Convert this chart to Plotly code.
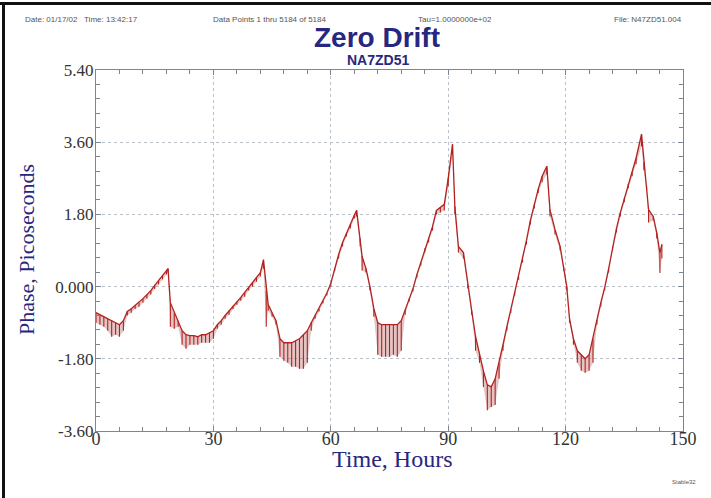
import plotly.graph_objects as go

# ---- data ----
time_h = [0, 1, 2, 3, 4, 5, 6, 7, 8, 9, 10, 11, 12, 13, 14, 15, 16, 17, 18, 18.4,
          19, 20, 21, 22, 23, 24, 25, 26, 27, 28, 29, 30, 31, 32, 33, 34, 35, 36, 37, 38,
          39, 40, 41, 42, 42.8, 43.5, 44, 45, 46, 47, 48, 49, 50, 51, 52, 53, 54, 55, 56, 57,
          58, 59, 60, 61, 62, 63, 64, 65, 66, 66.6, 67.5, 68, 69, 70, 71, 72, 73, 74, 75, 76,
          77, 78, 79, 80, 81, 82, 83, 84, 85, 86, 87, 88, 89, 90, 91.1, 91.7, 92.6, 93.9, 95, 96,
          97, 98, 99, 100, 101, 102, 103, 104, 105, 106, 107, 108, 109, 110, 111, 112, 113, 114, 115.2, 116,
          117.3, 118.6, 119.5, 120.3, 121, 122, 123, 124, 125, 126, 127, 128, 129, 130, 131, 132, 133, 134, 135, 136,
          137, 138, 139.4, 140, 140.7, 141.2, 142.4, 143.3, 144.1, 144.6]

phase_mid = [-0.65, -0.70, -0.75, -0.80, -0.85, -0.90, -0.95, -0.85, -0.62, -0.55, -0.47, -0.40, -0.30, -0.20, -0.10, 0.03, 0.15, 0.27, 0.38, 0.45,
             -0.40, -0.65, -0.85, -1.10, -1.20, -1.22, -1.22, -1.25, -1.20, -1.20, -1.15, -1.10, -0.95, -0.85, -0.72, -0.60, -0.48, -0.38, -0.27, -0.15,
             -0.02, 0.10, 0.22, 0.35, 0.67, -0.10, -0.45, -0.65, -0.85, -1.30, -1.40, -1.40, -1.40, -1.35, -1.30, -1.20, -1.10, -0.90, -0.72, -0.55,
             -0.35, -0.16, 0.08, 0.45, 0.80, 1.10, 1.34, 1.55, 1.78, 1.90, 1.20, 0.75, 0.45, 0.00, -0.55, -0.90, -0.95, -0.95, -0.95, -0.95,
             -0.95, -0.85, -0.58, -0.30, -0.05, 0.30, 0.60, 0.95, 1.20, 1.50, 1.90, 1.98, 2.05, 2.70, 3.55, 2.00, 1.00, 0.85, 0.05, -0.60,
             -1.25, -1.70, -2.10, -2.45, -2.50, -2.30, -1.90, -1.45, -1.00, -0.58, -0.15, 0.25, 0.70, 1.15, 1.65, 2.05, 2.43, 2.75, 3.00, 1.92,
             1.42, 1.00, 0.50, 0.00, -0.80, -1.30, -1.60, -1.70, -1.80, -1.70, -1.30, -0.83, -0.40, -0.02, 0.45, 1.00, 1.45, 1.85, 2.20, 2.55,
             2.85, 3.20, 3.80, 3.10, 2.50, 1.92, 1.75, 1.34, 0.84, 1.05]

phase_low = [-0.90, -0.95, -1.00, -1.10, -1.25, -1.20, -1.25, -1.10, -0.72, -0.65, -0.56, -0.50, -0.40, -0.30, -0.20, -0.06, 0.05, 0.18, 0.30, 0.35,
             -1.00, -1.05, -1.00, -1.45, -1.55, -1.45, -1.45, -1.45, -1.40, -1.40, -1.40, -1.30, -1.05, -0.95, -0.80, -0.70, -0.56, -0.45, -0.35, -0.25,
             -0.10, 0.00, 0.12, 0.25, 0.45, -1.00, -0.60, -0.75, -0.95, -1.75, -1.85, -1.90, -2.00, -2.00, -2.05, -2.05, -1.90, -1.10, -0.80, -0.62,
             -0.42, -0.22, 0.00, 0.38, 0.70, 1.00, 1.25, 1.45, 1.70, 1.75, 1.00, 0.40, 0.35, -0.10, -0.75, -1.70, -1.75, -1.75, -1.75, -1.70,
             -1.75, -1.60, -0.70, -0.38, -0.12, 0.22, 0.52, 0.85, 1.10, 1.40, 1.80, 1.85, 1.90, 2.50, 3.30, 1.80, 0.85, 0.70, -0.05, -0.70,
             -1.60, -1.90, -2.50, -3.08, -3.00, -2.95, -2.30, -1.60, -1.10, -0.66, -0.22, 0.17, 0.60, 1.05, 1.55, 1.95, 2.33, 2.60, 2.80, 1.75,
             1.30, 0.90, 0.40, -0.10, -0.90, -1.45, -1.90, -2.10, -2.15, -2.10, -1.90, -0.95, -0.50, -0.10, 0.35, 0.90, 1.35, 1.75, 2.10, 2.45,
             2.75, 3.05, 3.50, 2.90, 2.40, 1.60, 1.65, 1.20, 0.34, 0.70]

x_ticks = [0, 30, 60, 90, 120, 150]
y_ticks = [5.4, 3.6, 1.8, 0.0, -1.8, -3.6]
y_tick_labels = ["5.40", "3.60", "1.80", "0.000", "-1.80", "-3.60"]

header_texts = ["Date: 01/17/02   Time: 13:42:17",
                "Data Points 1 thru 5184 of 5184",
                "Tau=1.0000000e+02",
                "File: N47ZD51.004"]
title_text = "Zero Drift"
subtitle_text = "NA7ZD51"
x_title = "Time, Hours"
y_title = "Phase, Picoseconds"
footer_text = "Stable32"

# ---- layout geometry (pixels) ----
W, H = 711, 498
L, R, T, B = 96, 28, 70, 67
PW, PH = W - L - R, H - T - B


def px(x):
    return (x - L) / PW


def py(y):
    return (H - B - y) / PH


NAVY = "#27277f"
AXC = "#7d8794"
RED = "#b3221f"

fig = go.Figure()
fig.add_trace(go.Scatter(x=time_h, y=phase_low, mode="lines", line=dict(width=0, color=RED),
                         hoverinfo="skip", showlegend=False))
fig.add_trace(go.Scatter(
    x=time_h, y=phase_mid, mode="lines", fill="tonexty",
    fillcolor="rgba(185,110,110,0.40)",
    line=dict(color=RED, width=1.3), showlegend=False,
    error_y=dict(type="data", symmetric=False,
                 array=[0] * len(phase_mid),
                 arrayminus=[m - l for m, l in zip(phase_mid, phase_low)],
                 color=RED, thickness=1.1, width=0),
))

axis_common = dict(
    showline=True, linecolor=AXC, linewidth=1.2, mirror="allticks",
    ticks="inside", ticklen=5, tickcolor=AXC, tickwidth=1,
    showgrid=True, gridcolor="#b9c0c8", gridwidth=1, griddash="dot",
    zeroline=False,
)

fig.update_xaxes(range=[0, 150], tickvals=x_ticks, ticktext=[str(v) for v in x_ticks],
                 ticklabelstandoff=-9,
                 tickfont=dict(family="Liberation Serif", size=18, color="#333333"),
                 minor=dict(dtick=6, tick0=0, ticks="inside", ticklen=4, tickcolor=AXC, showgrid=False),
                 **axis_common)
fig.update_yaxes(range=[-3.6, 5.4], tickvals=y_ticks, ticktext=y_tick_labels,
                 ticklabelstandoff=-2,
                 tickfont=dict(family="Liberation Serif", size=17, color="#333333"),
                 minor=dict(dtick=0.36, tick0=-3.6, ticks="inside", ticklen=4, tickcolor=AXC, showgrid=False),
                 **axis_common)

ann = []
hdr_font = dict(family="Liberation Sans", size=8, color="#555555")
HY = 19
ann.append(dict(x=px(23), y=py(HY), text=header_texts[0], xanchor="left", yanchor="middle", font=hdr_font))
ann.append(dict(x=px(211), y=py(HY), text=header_texts[1], xanchor="left", yanchor="middle", font=hdr_font))
ann.append(dict(x=px(416), y=py(HY), text=header_texts[2], xanchor="left", yanchor="middle", font=hdr_font))
ann.append(dict(x=px(684), y=py(HY), text=header_texts[3], xanchor="right", yanchor="middle", font=hdr_font))
ann.append(dict(x=px(377), y=py(38), text="<b>" + title_text + "</b>", xanchor="center", yanchor="middle",
                font=dict(family="Liberation Sans", size=28, color=NAVY), borderpad=0))
ann.append(dict(x=px(378), y=py(60), text="<b>" + subtitle_text + "</b>", xanchor="center", yanchor="middle",
                font=dict(family="Liberation Sans", size=14, color=NAVY), borderpad=0))
ann.append(dict(x=px(392), y=py(459), text=x_title, xanchor="center", yanchor="middle",
                font=dict(family="Liberation Serif", size=24, color=NAVY)))
ann.append(dict(x=px(26), y=py(250), text=y_title, textangle=-90, xanchor="center", yanchor="middle",
                font=dict(family="Liberation Serif", size=22, color=NAVY)))
ann.append(dict(x=px(698), y=py(482), text=footer_text, xanchor="right", yanchor="middle",
                font=dict(family="Liberation Sans", size=6, color="#555555")))
for a in ann:
    a.update(xref="paper", yref="paper", showarrow=False)

shapes = [
    dict(type="line", xref="paper", yref="paper", x0=px(0), x1=px(W), y0=py(3.5), y1=py(3.5),
         line=dict(color="#111111", width=3)),
    dict(type="line", xref="paper", yref="paper", x0=px(3.5), x1=px(3.5), y0=py(2), y1=py(H),
         line=dict(color="#111111", width=3)),
]

fig.update_layout(
    width=W, height=H,
    margin=dict(l=L, r=R, t=T, b=B, pad=0),
    paper_bgcolor="white", plot_bgcolor="white",
    annotations=ann, shapes=shapes,
    showlegend=False,
)

fig.write_html("out.html", config={"displayModeBar": False},
               post_script="document.body.style.margin='0px';")
